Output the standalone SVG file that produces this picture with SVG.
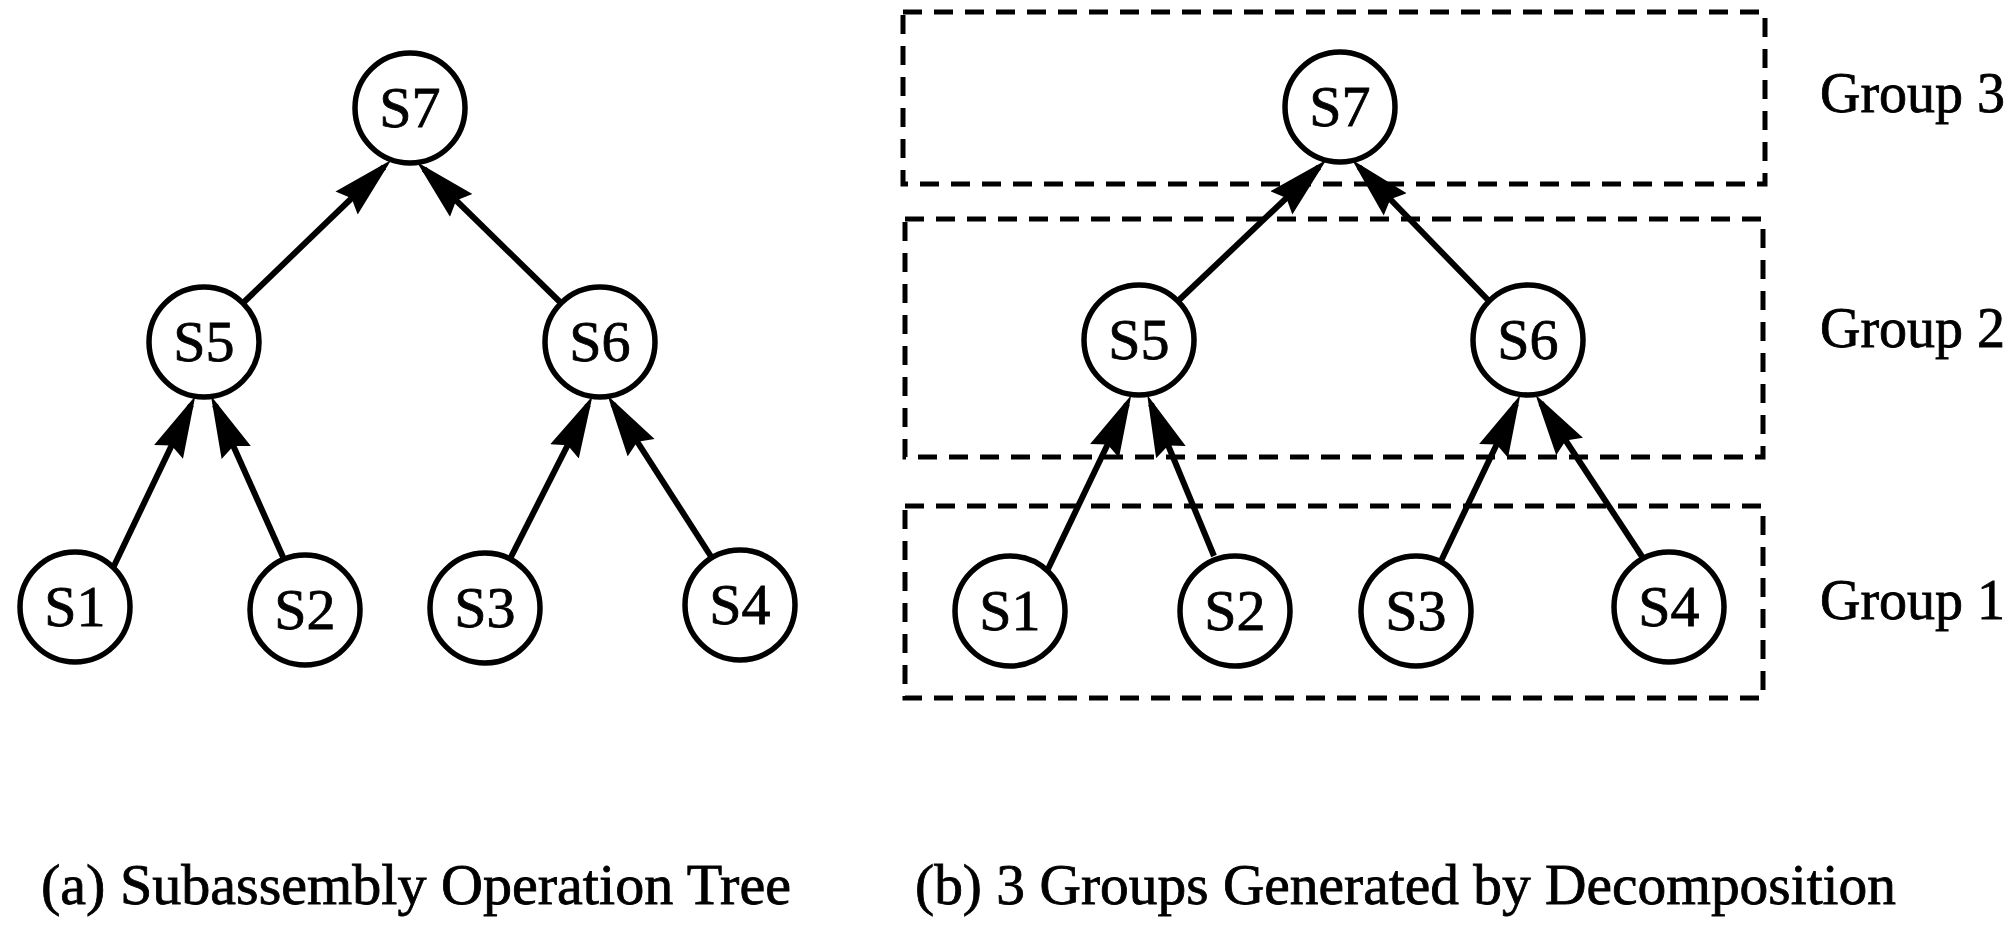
<svg xmlns="http://www.w3.org/2000/svg" width="2015" height="926" viewBox="0 0 2015 926">
  <style>
    .node circle { fill: #fff; stroke: #000; stroke-width: 5.5; }
    .node text, .label, .caption { font-family: "Liberation Serif", "Times New Roman", serif; fill: #000; stroke: #000; stroke-width: 0.8; }
    .node text { font-size: 58px; text-anchor: middle; }
    .label { font-size: 56px; }
    .caption { font-size: 56px; }
    .edge { stroke: #000; stroke-width: 6; fill: none; marker-end: url(#head); }
    .group-box { fill: none; stroke: #000; stroke-width: 5; stroke-dasharray: 19 12; }
  </style>
  <defs>
    <marker id="head" markerUnits="userSpaceOnUse" viewBox="0 0 62 34" refX="52" refY="17" markerWidth="62" markerHeight="34" orient="auto">
      <path d="M0,1 L62,17 L0,33 L7,17 Z" fill="#000"/>
    </marker>
  </defs>
  <rect width="2015" height="926" fill="#fff"/>

  <!-- (b) decomposition groups -->
  <g id="groups">
    <rect id="group3-box" class="group-box" x="903" y="12" width="862" height="172"/>
    <rect id="group2-box" class="group-box" x="905" y="219" width="858" height="238"/>
    <rect id="group1-box" class="group-box" x="905" y="506" width="858" height="192"/>
    <text class="label" x="1820" y="112">Group 3</text>
    <text class="label" x="1820" y="347">Group 2</text>
    <text class="label" x="1820" y="619">Group 1</text>
  </g>

  <!-- connectors: child points to parent -->
  <g id="connectors">
    <!-- tree (a) -->
    <path class="edge" d="M243,303 L384,167"/>
    <path class="edge" d="M561,303 L424,169"/>
    <path class="edge" d="M113,568 L191,405"/>
    <path class="edge" d="M283,557 L215,405"/>
    <path class="edge" d="M510,559 L588,405"/>
    <path class="edge" d="M712,558 L613,404"/>
    <!-- tree (b) -->
    <path class="edge" d="M1178,301 L1319,167"/>
    <path class="edge" d="M1489,301 L1359,167"/>
    <path class="edge" d="M1048,569 L1127,404"/>
    <path class="edge" d="M1214,556 L1151,404"/>
    <path class="edge" d="M1441,561 L1516,404"/>
    <path class="edge" d="M1643,558 L1541,403"/>
  </g>

  <!-- tree (a) nodes -->
  <g id="a-S7" class="node"><circle cx="410" cy="108" r="55"/><text x="410" y="127">S7</text></g>
  <g id="a-S5" class="node"><circle cx="204" cy="342" r="55"/><text x="204" y="361">S5</text></g>
  <g id="a-S6" class="node"><circle cx="600" cy="342" r="55"/><text x="600" y="361">S6</text></g>
  <g id="a-S1" class="node"><circle cx="75" cy="607" r="55"/><text x="75" y="626">S1</text></g>
  <g id="a-S2" class="node"><circle cx="305" cy="610" r="55"/><text x="305" y="629">S2</text></g>
  <g id="a-S3" class="node"><circle cx="485" cy="608" r="55"/><text x="485" y="627">S3</text></g>
  <g id="a-S4" class="node"><circle cx="740" cy="605" r="55"/><text x="740" y="624">S4</text></g>

  <!-- tree (b) nodes -->
  <g id="b-S7" class="node"><circle cx="1340" cy="107" r="55"/><text x="1340" y="126">S7</text></g>
  <g id="b-S5" class="node"><circle cx="1139" cy="340" r="55"/><text x="1139" y="359">S5</text></g>
  <g id="b-S6" class="node"><circle cx="1528" cy="340" r="55"/><text x="1528" y="359">S6</text></g>
  <g id="b-S1" class="node"><circle cx="1010" cy="611" r="55"/><text x="1010" y="630">S1</text></g>
  <g id="b-S2" class="node"><circle cx="1235" cy="611" r="55"/><text x="1235" y="630">S2</text></g>
  <g id="b-S3" class="node"><circle cx="1416" cy="611" r="55"/><text x="1416" y="630">S3</text></g>
  <g id="b-S4" class="node"><circle cx="1669" cy="607" r="55"/><text x="1669" y="626">S4</text></g>

  <!-- captions -->
  <text class="caption" x="41" y="904" textLength="750" lengthAdjust="spacingAndGlyphs">(a) Subassembly Operation Tree</text>
  <text class="caption" x="915" y="904" textLength="981" lengthAdjust="spacingAndGlyphs">(b) 3 Groups Generated by Decomposition</text>
</svg>
